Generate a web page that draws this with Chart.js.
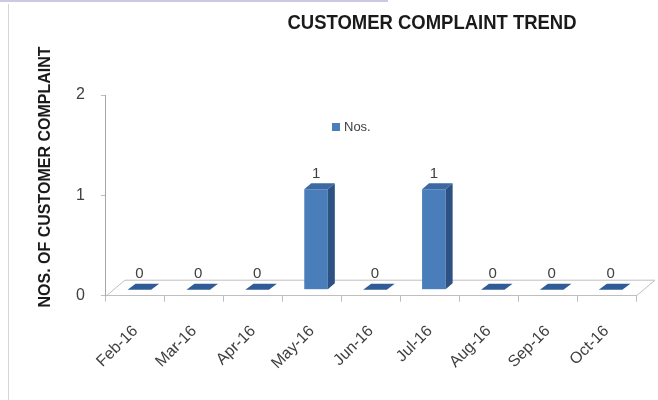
<!DOCTYPE html>
<html>
<head>
<meta charset="utf-8">
<style>
  html, body { margin: 0; padding: 0; background: #fff; }
  #wrap { position: relative; width: 658px; height: 400px; overflow: hidden; }
  #complaintChart { position: absolute; left: 0; top: 0; }
  #topline { position: absolute; left: 0; top: 0; width: 388px; height: 2px; background: #c9c9e4; }
  #leftline { position: absolute; left: 8px; top: 4px; width: 1px; height: 396px; background: #d6d6d6; }
</style>
<script src="https://cdn.jsdelivr.net/npm/chart.js"></script>
</head>
<body>
<div id="wrap">
  <canvas id="complaintChart" width="658" height="400"></canvas>
  <div id="topline"></div>
  <div id="leftline"></div>
</div>
<script>
    var months = ["Feb-16", "Mar-16", "Apr-16", "May-16", "Jun-16", "Jul-16", "Aug-16", "Sep-16", "Oct-16"];
    var complaints = [0, 0, 0, 1, 0, 1, 0, 0, 0];
    var yTicks = [0, 1, 2];
    var seriesName = "Nos.";
    var chartTitle = "CUSTOMER COMPLAINT TREND";
    var yAxisTitle = "NOS. OF CUSTOMER COMPLAINT";

    var textColor = "#404040";
    var lineColor = "#bfbfbf";

    // fake excel 3d look: floor, bar sides/tops, flat zero bars, labels, title, legend
    var excel3d = {
        id: "excel3d",
        beforeDatasetsDraw: function(chart) {
            var ctx = chart.ctx, area = chart.chartArea;
            var y0 = chart.scales.y.getPixelForValue(0);
            ctx.save();
            ctx.strokeStyle = lineColor;
            ctx.lineWidth = 1;
            ctx.beginPath();
            ctx.moveTo(area.left, y0 + 0.5);
            ctx.lineTo(area.left + 19, y0 - 15.5);
            ctx.lineTo(area.right + 19, y0 - 15.5);
            ctx.lineTo(area.right, y0 + 0.5);
            ctx.stroke();
            ctx.restore();

            ctx.save();
            ctx.translate(4, -6);
        },
        afterDatasetsDraw: function(chart) {
            var ctx = chart.ctx;
            var meta = chart.getDatasetMeta(0);
            var dx = 7, dy = -6;
            meta.data.forEach(function(el, i) {
                var w = el.width, l = el.x - w / 2, r = el.x + w / 2;
                if (complaints[i] > 0) {
                    ctx.fillStyle = "#2d5183";
                    ctx.beginPath();
                    ctx.moveTo(r, el.y);
                    ctx.lineTo(r + dx, el.y + dy);
                    ctx.lineTo(r + dx, el.base + dy);
                    ctx.lineTo(r, el.base);
                    ctx.closePath();
                    ctx.fill();
                    ctx.fillStyle = "#3c69a3";
                    ctx.beginPath();
                    ctx.moveTo(l, el.y);
                    ctx.lineTo(l + dx, el.y + dy);
                    ctx.lineTo(r + dx, el.y + dy);
                    ctx.lineTo(r, el.y);
                    ctx.closePath();
                    ctx.fill();
                } else {
                    ctx.fillStyle = "#2f5c96";
                    ctx.beginPath();
                    ctx.moveTo(l, el.base);
                    ctx.lineTo(l + dx + 1, el.base + dy);
                    ctx.lineTo(r + dx + 1, el.base + dy);
                    ctx.lineTo(r, el.base);
                    ctx.closePath();
                    ctx.fill();
                }
                ctx.fillStyle = textColor;
                ctx.font = "15px 'Liberation Sans', Arial, sans-serif";
                ctx.textAlign = "center";
                ctx.textBaseline = "middle";
                ctx.fillText(String(complaints[i]), el.x, el.y - 15.5);
            });
            ctx.restore();
        },
        afterDraw: function(chart) {
            var ctx = chart.ctx;
            ctx.save();
            ctx.fillStyle = "#1a1a1a";
            ctx.textAlign = "center";
            ctx.textBaseline = "middle";
            ctx.font = "bold 21px 'Liberation Sans', Arial, sans-serif";
            ctx.fillText(chartTitle, 432, 23, 289);

            ctx.translate(46, 177);
            ctx.rotate(-Math.PI / 2);
            ctx.font = "bold 16px 'Liberation Sans', Arial, sans-serif";
            ctx.fillText(yAxisTitle, 0, 0, 270);
            ctx.restore();

            // legend
            var ds = chart.data.datasets[0];
            ctx.save();
            ctx.fillStyle = ds.backgroundColor;
            ctx.fillRect(332, 123, 8, 8);
            ctx.fillStyle = textColor;
            ctx.font = "13px 'Liberation Sans', Arial, sans-serif";
            ctx.textAlign = "left";
            ctx.textBaseline = "middle";
            ctx.fillText(ds.label, 344, 127.5);
            ctx.restore();
        }
    };

    Chart.defaults.font.family = "'Liberation Sans', Arial, sans-serif";
    Chart.defaults.color = textColor;

    var complaintChart = new Chart(document.getElementById("complaintChart").getContext("2d"), {
        type: "bar",
        data: {
            labels: months,
            datasets: [{
                label: seriesName,
                data: complaints,
                backgroundColor: "#4a7ebb",
                borderWidth: 0,
                categoryPercentage: 1,
                barPercentage: 0.4
            }]
        },
        options: {
            responsive: false,
            animation: false,
            layout: {
                padding: { left: 60, right: 22, top: 95, bottom: 7 }
            },
            plugins: {
                legend: { display: false },
                title: { display: false },
                tooltip: { enabled: false }
            },
            scales: {
                x: {
                    grid: {
                        offset: true,
                        drawOnChartArea: false,
                        tickLength: 6,
                        color: lineColor
                    },
                    border: { color: lineColor },
                    ticks: {
                        autoSkip: false,
                        maxRotation: 45,
                        minRotation: 45,
                        padding: 20,
                        color: textColor,
                        font: { size: 16 }
                    }
                },
                y: {
                    min: yTicks[0],
                    max: yTicks[yTicks.length - 1],
                    afterBuildTicks: function(axis) {
                        axis.ticks = yTicks.map(function(v) { return { value: v }; });
                    },
                    grid: {
                        drawOnChartArea: false,
                        tickLength: 5,
                        color: lineColor
                    },
                    border: { color: "#a6a6a6" },
                    ticks: {
                        padding: 16,
                        color: textColor,
                        font: { size: 16 }
                    }
                }
            }
        },
        plugins: [excel3d]
    });
</script>
</body>
</html>
